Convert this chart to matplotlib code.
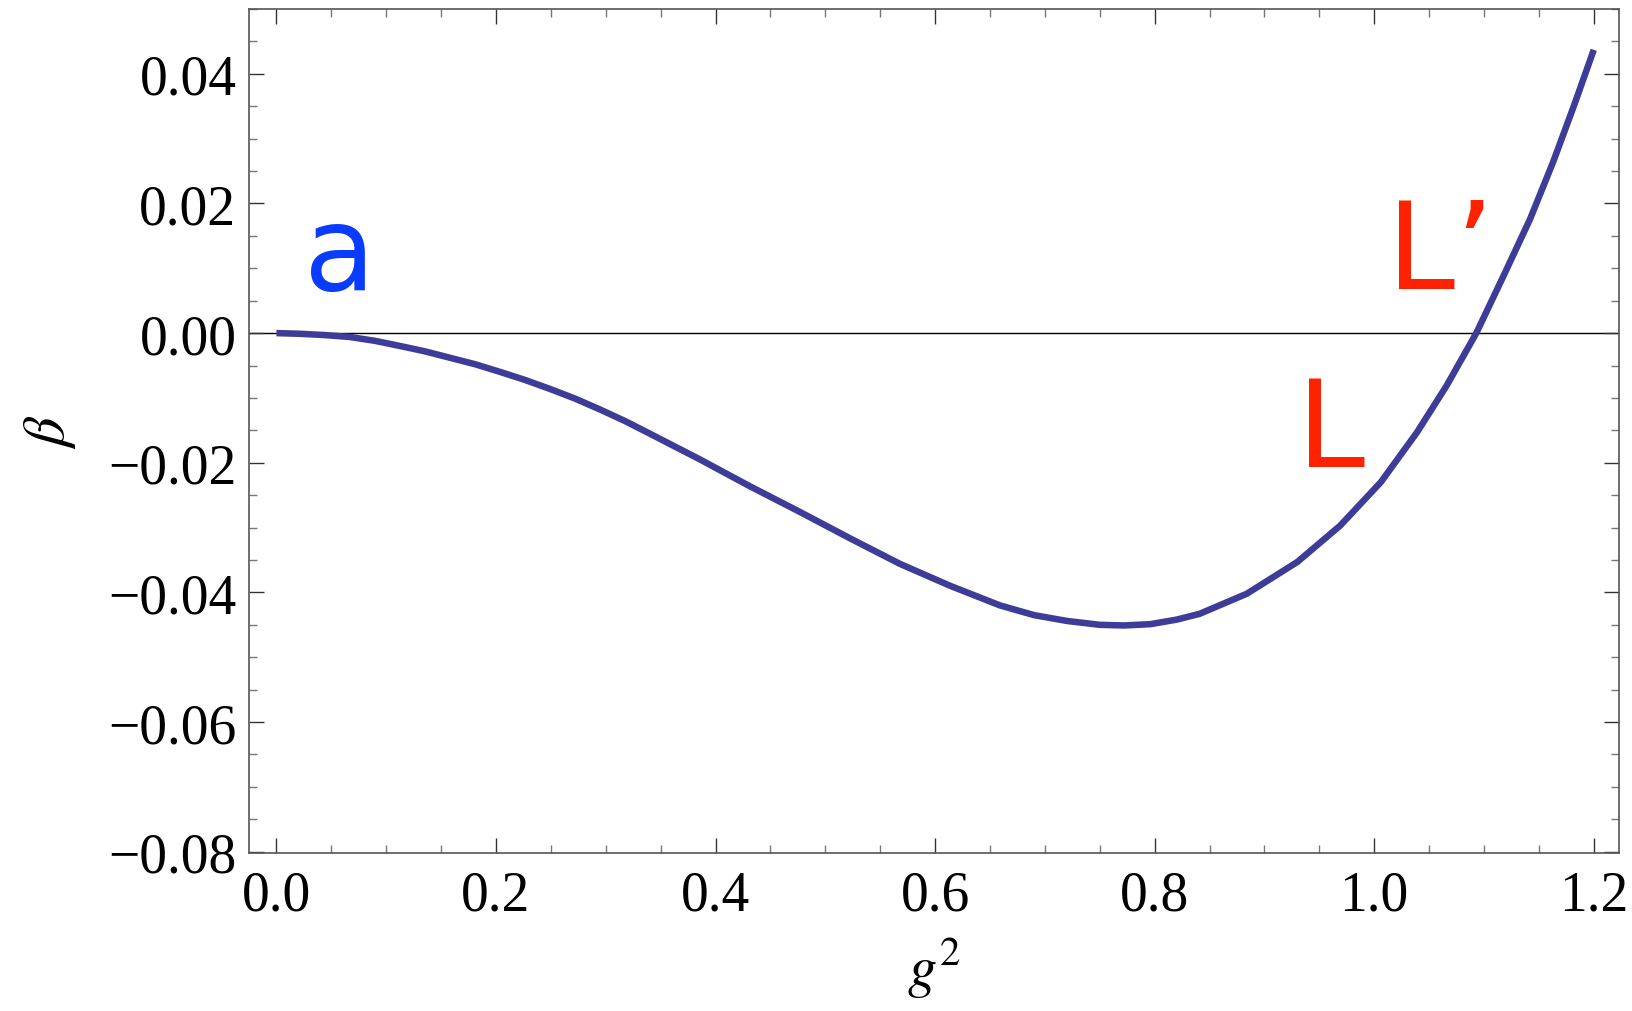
import matplotlib
matplotlib.use("Agg")
import matplotlib.pyplot as plt
from matplotlib.ticker import MultipleLocator

# beta function
g2 = [0.000, 0.021, 0.044, 0.067, 0.090, 0.113, 0.135, 0.158, 0.181, 0.204,
      0.226, 0.249, 0.272, 0.295, 0.318, 0.340, 0.363, 0.386, 0.409, 0.431,
      0.477, 0.523, 0.568, 0.614, 0.659, 0.690, 0.720, 0.750, 0.772, 0.796,
      0.820, 0.841, 0.884, 0.930, 0.969, 1.006, 1.039, 1.066, 1.093, 1.118,
      1.142, 1.163, 1.182, 1.200]
beta = [0.0000, -0.0001, -0.0003, -0.0006, -0.0012, -0.0020, -0.0028, -0.0038, -0.0048, -0.0060,
        -0.0072, -0.0086, -0.0101, -0.0118, -0.0136, -0.0155, -0.0175, -0.0195, -0.0216, -0.0236,
        -0.0276, -0.0317, -0.0356, -0.0390, -0.0420, -0.0435, -0.0444, -0.0450, -0.0451, -0.0449,
        -0.0442, -0.0433, -0.0402, -0.0353, -0.0297, -0.0230, -0.0153, -0.0081, 0.0000, 0.0089,
        0.0176, 0.0264, 0.0351, 0.0437]

xticks = [0.0, 0.2, 0.4, 0.6, 0.8, 1.0, 1.2]
yticks = [-0.08, -0.06, -0.04, -0.02, 0.00, 0.02, 0.04]

plt.rcParams['font.family'] = ['Liberation Serif', 'DejaVu Serif']
plt.rcParams['mathtext.fontset'] = 'stix'

fig = plt.figure(figsize=(16.33, 10.12), dpi=100)
ax = fig.add_axes([249 / 1633, 158 / 1012, 1370 / 1633, 844 / 1012])

ax.axhline(0, color='black', lw=1.0, zorder=1)
ax.plot(g2, beta, color='#3d3d99', lw=4.7, solid_capstyle='butt',
        solid_joinstyle='round', zorder=2)

ax.set_xlim(-0.025, 1.223)
ax.set_ylim(-0.0802, 0.05)
ax.set_xticks(xticks)
ax.set_yticks(yticks)
ax.set_xticklabels(['%.1f' % v for v in xticks])
ax.set_yticklabels(['%.2f' % v if v >= 0 else '\u2212%.2f' % -v for v in yticks])
ax.xaxis.set_minor_locator(MultipleLocator(0.05))
ax.yaxis.set_minor_locator(MultipleLocator(0.005))

ax.tick_params(which='both', direction='in', top=True, right=True, labelsize=40)
ax.tick_params(which='major', length=10.5, width=1.0, color='#333333')
ax.tick_params(which='minor', length=6, width=1.0, color='#777777')
ax.tick_params(axis='x', which='major', pad=12)
ax.tick_params(axis='y', which='major', pad=9)
for s in ax.spines.values():
    s.set_color('#555555')
    s.set_linewidth(1.2)

ax.set_xlabel(r'$g^2$', fontsize=42, labelpad=10)
ax.set_ylabel(r'$\beta$', fontsize=42, labelpad=22)

ax.text(0.058, 0.0068, 'a', color='#0a3cff', fontsize=84, family='DejaVu Sans',
        ha='center', va='baseline')
ax.text(1.012, 0.0070, 'L\u2019', color='#ff2200', fontsize=88, family='DejaVu Sans',
        ha='left', va='baseline')
ax.text(0.930, -0.0205, 'L', color='#ff2200', fontsize=88, family='DejaVu Sans',
        ha='left', va='baseline')

fig.savefig('out.png', dpi=100)
